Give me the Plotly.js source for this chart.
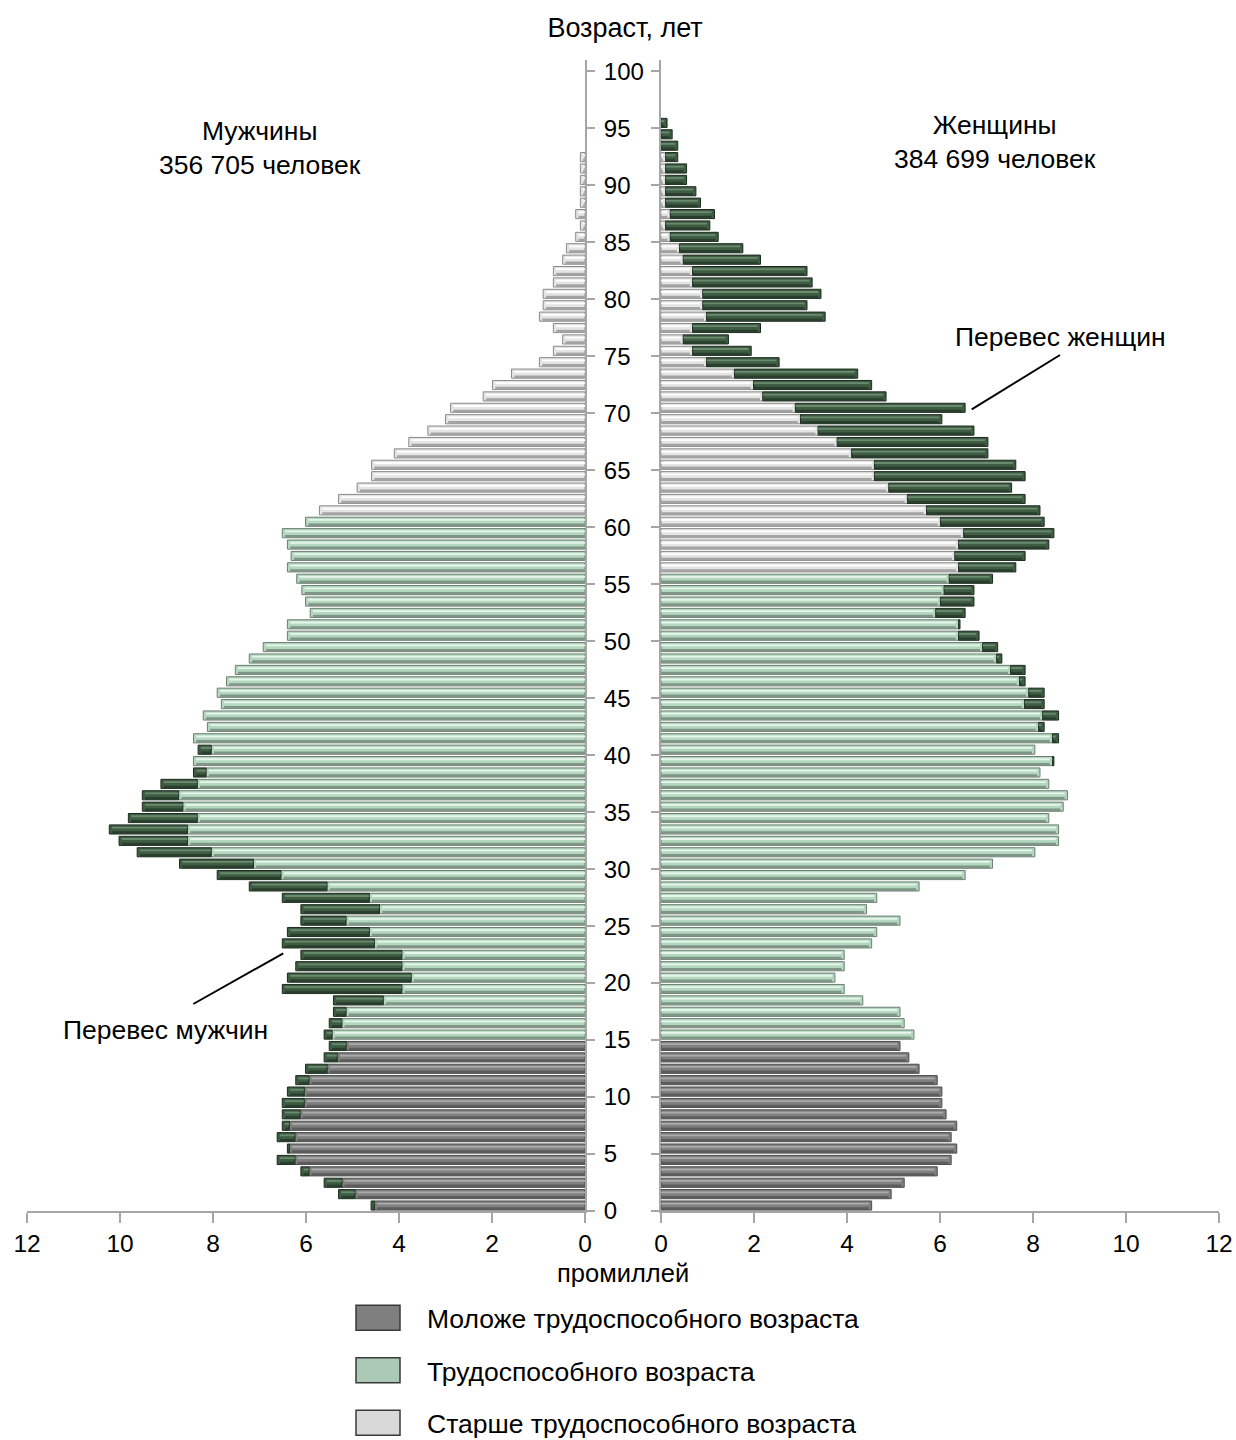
<!DOCTYPE html>
<html>
<head>
<meta charset="utf-8">
<script src="https://cdn.plot.ly/plotly-3.0.1.min.js"></script>
<style>
html,body{margin:0;padding:0;background:#ffffff;}
#chart{width:1236px;height:1440px;}
</style>
</head>
<body>
<div id="chart"></div>
<script>
// ---------- DATA ----------
const ages = [0,1,2,3,4,5,6,7,8,9,10,11,12,13,14,15,16,17,18,19,20,21,22,23,24,25,26,27,28,29,30,31,32,33,34,35,36,37,38,39,40,41,42,43,44,45,46,47,48,49,50,51,52,53,54,55,56,57,58,59,60,61,62,63,64,65,66,67,68,69,70,71,72,73,74,75,76,77,78,79,80,81,82,83,84,85,86,87,88,89,90,91,92,93,94,95];

// Men, per mille
const men = [4.60,5.30,5.61,6.11,6.62,6.40,6.62,6.51,6.51,6.51,
             6.40,6.22,6.01,5.61,5.50,5.61,5.50,5.41,5.41,6.51,
             6.40,6.22,6.11,6.51,6.40,6.11,6.11,6.51,7.22,7.91,
             8.72,9.63,10.02,10.23,9.82,9.52,9.52,9.12,8.42,8.42,
             8.32,8.42,8.12,8.21,7.82,7.91,7.71,7.52,7.22,6.92,
             6.40,6.40,5.91,6.01,6.09,6.20,6.40,6.32,6.40,6.51,
             6.01,5.71,5.30,4.90,4.59,4.59,4.10,3.79,3.38,3.00,
             2.89,2.19,1.99,1.58,0.98,0.68,0.48,0.68,0.98,0.90,
             0.90,0.68,0.68,0.48,0.40,0.20,0.10,0.20,0.10,0.10,
             0.10,0.10,0.10,0,0,0];

// Women, per mille
const women = [4.53,4.95,5.23,5.94,6.24,6.36,6.24,6.36,6.13,6.04,
               6.04,5.94,5.55,5.33,5.14,5.44,5.23,5.14,4.34,3.94,
               3.74,3.94,3.94,4.53,4.64,5.14,4.42,4.64,5.55,6.54,
               7.13,8.04,8.55,8.55,8.34,8.65,8.74,8.34,8.15,8.45,
               8.04,8.55,8.24,8.55,8.24,8.24,7.83,7.83,7.33,7.24,
               6.84,6.43,6.54,6.73,6.73,7.13,7.63,7.83,8.34,8.45,
               8.24,8.15,7.83,7.54,7.83,7.63,7.03,7.03,6.73,6.04,
               6.54,4.84,4.53,4.23,2.54,1.94,1.45,2.14,3.53,3.14,
               3.44,3.25,3.14,2.14,1.76,1.23,1.05,1.15,0.85,0.75,
               0.55,0.55,0.36,0.36,0.24,0.13];

const groupNames = ['Моложе трудоспособного возраста','Трудоспособного возраста','Старше трудоспособного возраста'];
const youngMaxAge = 14;
const menWorkMaxAge = 60;
const womenWorkMaxAge = 55;

const menTitle = 'Мужчины<br>356 705 человек';
const womenTitle = 'Женщины<br>384 699 человек';
const yTicks = [0,5,10,15,20,25,30,35,40,45,50,55,60,65,70,75,80,85,90,95,100];
const xTicks = [0,2,4,6,8,10,12];

// ---------- STYLE ----------
const FONT = 'Liberation Sans, Arial, sans-serif';
const fills  = ['#808080','#b3d8bf','#e4e4e4'];
const highs  = ['#ababab','#e6f6eb','#ffffff'];
const shades = ['#5c5c5c','#7f9585','#a3a3a3'];
const edges  = ['#4a4a4a','#6d7d71','#8a8a8a'];
const legendFills = ['#7f7f7f','#acc9b6','#d9d9d9'];
const exFill = '#3f5d43', exHigh = '#6a8a70', exShade = '#2a3e2d', exEdge = '#1b2a1d';
const BW = 0.80, BO = -0.42;      // main bar
const HW = 0.16, HO = 0.06;       // highlight stripe
const SW = 0.24, SO = -0.42;      // shadow stripe

function groupOf(age, workMax){
  return age <= youngMaxAge ? 0 : (age <= workMax ? 1 : 2);
}

function barTrace(x, y, base, xa, ya, w, o, color, line, extra){
  const t = {type:'bar', orientation:'h', x:x, y:y, xaxis:xa, yaxis:ya, width:w, offset:o,
             marker:{color:color, line:line}, hoverinfo:'skip', showlegend:false};
  if (base) t.base = base;
  return Object.assign(t, extra || {});
}

function sideTraces(own, other, workMax, xa, ya, showLegend){
  const traces = [];
  const yPos = ages.map(a => a + 0.5);
  const baseLen = own.map((v,i) => Math.min(v, other[i]));
  for (let g = 0; g < 3; g++){
    const ys = [], xs = [], hx = [];
    ages.forEach((a,i) => {
      if (groupOf(a, workMax) === g && baseLen[i] > 0){
        ys.push(yPos[i]); xs.push(baseLen[i]); hx.push(Math.max(baseLen[i]-0.06, 0.01));
      }
    });
    traces.push(barTrace(xs, ys, null, xa, ya, BW, BO, fills[g], {color:edges[g], width:1},
      {name:groupNames[g], legendgroup:'g'+g, showlegend:showLegend}));
    traces.push(barTrace(hx, ys, null, xa, ya, SW, SO, shades[g], {width:0}, {legendgroup:'g'+g}));
    traces.push(barTrace(hx, ys, null, xa, ya, HW, HO, highs[g], {width:0}, {legendgroup:'g'+g}));
  }
  const ey = [], ex = [], eb = [], hx = [];
  ages.forEach((a,i) => {
    const d = own[i] - other[i];
    if (d > 0.01){ ey.push(yPos[i]); ex.push(d); eb.push(baseLen[i]); hx.push(Math.max(d-0.06,0.01)); }
  });
  traces.push(barTrace(ex, ey, eb, xa, ya, BW, BO, exFill, {color:exEdge, width:1}));
  traces.push(barTrace(hx, ey, eb, xa, ya, SW, SO, exShade, {width:0}));
  traces.push(barTrace(hx, ey, eb, xa, ya, HW, HO, exHigh, {width:0}));
  return traces;
}

const data = [].concat(
  sideTraces(men, women, menWorkMaxAge, 'x', 'y', true),
  sideTraces(women, men, womenWorkMaxAge, 'x2', 'y2', false)
);

const W = 1236, H = 1440;
const L = 27, R = 17, T = 60, B = 229;
const plotW = W - L - R;           // 1192
const plotH = H - T - B;           // 1151
const leftEnd = (585 - L) / plotW;
const rightStart = (661 - L) / plotW;
const pxX = 46.5;                  // px per unit on x axes
const pxY = plotH / 101;           // px per year
const yv = py => (H - B - py) / pxY;

const axisLine = '#a6a6a6';
const layout = {
  width: W, height: H,
  margin: {l:L, r:R, t:T, b:B, pad:0, autoexpand:false},
  paper_bgcolor:'#ffffff', plot_bgcolor:'#ffffff',
  barmode:'overlay',
  hovermode:false,
  font:{family:FONT, size:24, color:'#000000'},
  title:{text:'Возраст, лет', x:625/W, xanchor:'center', y:1-28/H, yanchor:'middle', yref:'container',
         font:{family:FONT, size:27, color:'#000000'}},
  xaxis:{domain:[0, leftEnd], range:[12,0], tickvals:xTicks, ticks:'outside', ticklen:10, tickwidth:1.5,
         tickcolor:axisLine, showline:true, linecolor:axisLine, linewidth:2, showgrid:false, zeroline:false,
         anchor:'y', tickfont:{size:24.5}, fixedrange:true},
  xaxis2:{domain:[rightStart, 1], range:[0,12], tickvals:xTicks, ticks:'outside', ticklen:10, tickwidth:1.5,
         tickcolor:axisLine, showline:true, linecolor:axisLine, linewidth:2, showgrid:false, zeroline:false,
         anchor:'y2', tickfont:{size:24.5}, fixedrange:true},
  yaxis:{range:[0,101], tickvals:yTicks, side:'right', anchor:'x', ticks:'outside', ticklen:8, tickwidth:2,
         tickcolor:axisLine, showline:true, linecolor:axisLine, linewidth:2, showgrid:false, zeroline:false,
         tickfont:{size:24}, ticklabelstandoff:4, fixedrange:true},
  yaxis2:{range:[0,101], tickvals:yTicks, side:'left', anchor:'x2', matches:'y', ticks:'outside', ticklen:8, tickwidth:2,
         tickcolor:axisLine, showline:true, linecolor:axisLine, linewidth:2, showgrid:false, zeroline:false,
         showticklabels:false, fixedrange:true},
  legend:{orientation:'v', x:(320-L)/plotW, xanchor:'left', y:-(1294-1211)/plotH, yanchor:'top',
          font:{family:FONT, size:26.5, color:'#000000'}, tracegroupgap:15, itemwidth:97,
          bgcolor:'rgba(0,0,0,0)', traceorder:'grouped'},
  annotations:[
    {text:menTitle, xref:'x', yref:'y', x:(585-260)/pxX, y:yv(148), showarrow:false,
     font:{size:26.5}, align:'center'},
    {text:womenTitle, xref:'x2', yref:'y2', x:(995-661)/pxX, y:yv(142), showarrow:false,
     font:{size:26.5}, align:'center'},
    {text:'Перевес женщин', xref:'x2', yref:'y2', x:(1060-661)/pxX, y:yv(337), showarrow:false,
     font:{size:26.5}},
    {text:'Перевес мужчин', xref:'x', yref:'y', x:(585-165)/pxX, y:yv(1030), showarrow:false,
     font:{size:26.5}},
    {text:'промиллей', xref:'paper', yref:'paper', x:(623-L)/plotW, y:-(1273-1211)/plotH, showarrow:false,
     font:{size:25.5}, xanchor:'center', yanchor:'middle'}
  ],
  shapes:[
    {type:'line', xref:'x2', yref:'y2', x0:(971.7-661)/pxX, y0:yv(409.3), x1:(1060-661)/pxX, y1:yv(355),
     line:{color:'#000000', width:2}},
    {type:'line', xref:'x', yref:'y', x0:(585-193.3)/pxX, y0:yv(1004), x1:(585-283.3)/pxX, y1:yv(953.3),
     line:{color:'#000000', width:2}}
  ]
};

Plotly.newPlot('chart', data, layout, {staticPlot:true, displayModeBar:false}).then(gd => {
  // draw legend swatches as larger boxes like the reference (centre x = 378 px)
  const items = gd.querySelectorAll('.legend .traces');
  items.forEach((tr, k) => {
    tr.querySelectorAll('.legendpoints path').forEach(p => {
      p.setAttribute('d', 'M-22,-12.5H22V12.5H-22Z');
      p.removeAttribute('transform');
      p.style.strokeWidth = '1.5px';
      p.style.stroke = '#3a3a3a';
      p.style.fill = legendFills[k];
      p.style.fillOpacity = 1;
      const r = p.getBoundingClientRect();
      const dx = 378 - (r.left + r.right) / 2;
      p.setAttribute('transform', 'translate(' + dx + ',0)');
    });
  });
});
</script>
</body>
</html>
